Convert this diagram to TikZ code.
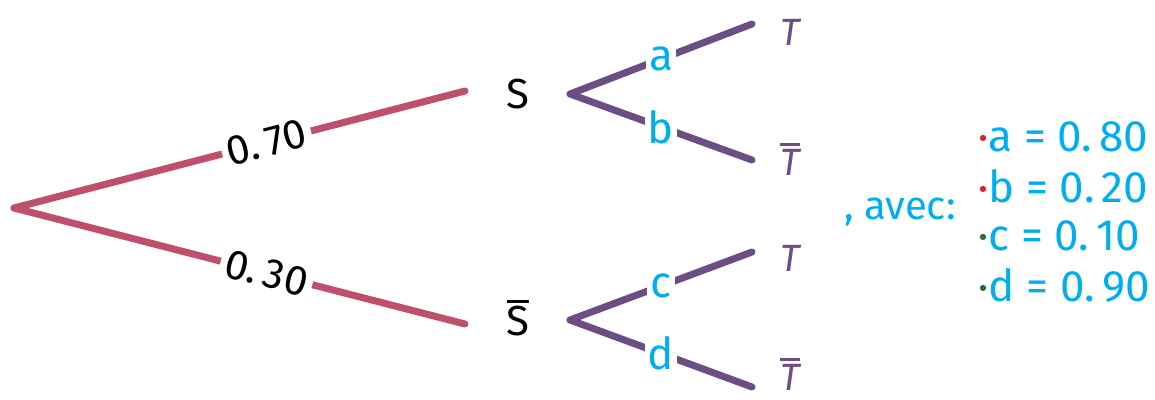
\documentclass[tikz,border=0pt]{standalone}
\usepackage{fontspec}
\setmainfont{Fira Sans}
\newfontfamily\dotfont{DejaVu Sans}
\usepackage{xcolor}
\usetikzlibrary{positioning,calc}
\definecolor{rosebranch}{HTML}{C04F6D}
\definecolor{plum}{HTML}{6D4E84}
\definecolor{sky}{HTML}{00AEEF}
\definecolor{dotred}{HTML}{D7262B}
\definecolor{dotgreen}{HTML}{2E6B3A}
\newcommand\topbar[1]{\vbox{\hrule height 3pt\kern 3pt\hbox{#1}}}
\newcommand\legdot[1]{\raisebox{11pt}{\color{#1}\dotfont\fontsize{8}{8}\selectfont●}\kern2pt}

\begin{document}
\begin{tikzpicture}[x=1pt, y=-1pt,
    branch/.style={line width=7pt, line cap=round},
    prob/.style={fill=white, inner sep=5pt, text=black, font=\fontsize{42}{44}\selectfont},
    letter/.style={fill=white, inner sep=3pt, text=sky, font=\fontsize{44}{46}\selectfont},
    event/.style={text=black, font=\fontsize{42}{44}\selectfont},
    leaf/.style={text=plum, font=\fontsize{38}{40}\selectfont\itshape},
    legend/.style={anchor=west, text=sky, font=\fontsize{44}{46}\selectfont}
]
    \useasboundingbox (0,0) rectangle (1155,399);

    % Root and first level
    \coordinate (root) at (14,208);
    \coordinate (s_in) at (465,91);
    \coordinate (sb_in) at (465,324);
    \node[event] (s) at (518,94) {S};
    \node[event] (sb) at (518,318) {\topbar{S}};

    % Second level
    \coordinate (s_out) at (570,94);
    \coordinate (sb_out) at (570,320);
    \coordinate (t1_in) at (752,24);
    \coordinate (t2_in) at (752,160);
    \coordinate (t3_in) at (752,252);
    \coordinate (t4_in) at (752,387);
    \node[leaf] (t1) at (790,32) {T};
    \node[leaf] (t2) at (790,159) {\topbar{T}};
    \node[leaf] (t3) at (790,258) {T};
    \node[leaf] (t4) at (790,374) {\topbar{T}};

    % Branches: first level
    \draw[branch, rosebranch] (root) -- node[prob, sloped, pos=0.56] (p_s) {0.\,70} (s_in);
    \draw[branch, rosebranch] (root) -- node[prob, sloped, pos=0.56] (p_sb) {0.\,30} (sb_in);

    % Branches: second level
    \draw[branch, plum] (s_out) -- node[letter] (p_a) {a} (t1_in);
    \draw[branch, plum] (s_out) -- node[letter] (p_b) {b} (t2_in);
    \draw[branch, plum] (sb_out) -- node[letter] (p_c) {c} (t3_in);
    \draw[branch, plum] (sb_out) -- node[letter] (p_d) {d} (t4_in);

    % Values of the letters
    \node[text=sky, font=\fontsize{40}{42}\selectfont] (avec) at (900,212) {, avec:};
    \node[legend] (va) at (976,137) {\legdot{dotred}a = 0.\,80};
    \node[legend] (vb) at (976,186) {\legdot{dotred}b = 0.\,20};
    \node[legend] (vc) at (976,236) {\legdot{dotgreen}c = 0.\,10};
    \node[legend] (vd) at (976,285) {\legdot{dotgreen}d = 0.\,90};
\end{tikzpicture}
\end{document}
